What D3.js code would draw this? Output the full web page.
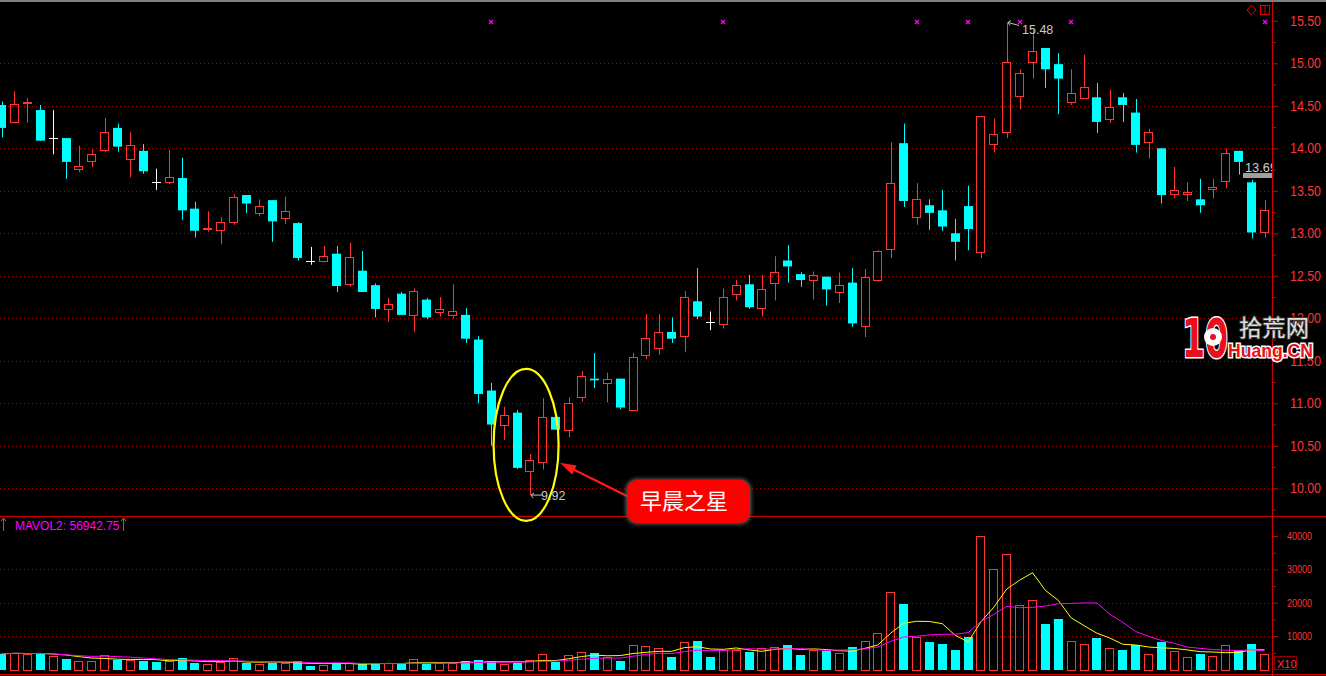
<!DOCTYPE html>
<html>
<head>
<meta charset="utf-8">
<script src="https://cdn.jsdelivr.net/npm/d3@7"></script>
<style>
body { margin: 0; background: #000; }
svg { display: block; }
</style>
</head>
<body>
<svg id="chart"></svg>
<script>
// daily OHLC, left to right
var opens = [14.51,14.31,14.53,14.45,14.12,14.12,13.76,13.85,13.98,14.24,13.87,13.97,13.60,13.60,13.65,13.29,13.05,13.04,13.13,13.45,
  13.24,13.39,13.18,13.12,12.67,12.67,12.76,12.40,12.56,12.39,12.11,12.29,12.04,12.22,12.08,12.04,12.04,11.75,11.15,10.75,
  10.89,10.20,10.31,10.84,10.69,11.08,11.29,11.24,11.29,10.92,11.57,11.65,11.84,11.79,12.20,11.96,11.93,12.29,12.40,12.12,
  12.41,12.68,12.52,12.45,12.49,12.31,12.42,11.91,12.45,12.81,14.06,13.19,13.33,13.27,13.00,13.32,12.78,14.05,14.19,14.62,
  15.02,15.18,14.99,14.54,14.59,14.60,14.34,14.60,14.42,14.07,14.00,13.46,13.46,13.40,13.52,13.62,13.97,13.60,13.01];
var highs = [14.55,14.67,14.59,14.51,14.45,14.12,14.03,13.99,14.36,14.29,14.19,14.05,13.76,13.98,13.89,13.37,13.26,13.19,13.46,13.45,
  13.40,13.39,13.43,13.13,12.84,12.85,12.85,12.89,12.79,12.41,12.24,12.31,12.35,12.24,12.25,12.40,12.12,11.79,11.24,10.96,
  10.92,10.40,11.06,10.84,11.07,11.38,11.59,11.36,11.29,11.59,12.05,12.05,12.01,12.32,12.59,12.08,12.35,12.45,12.51,12.51,
  12.73,12.86,12.54,12.55,12.49,12.54,12.59,12.58,12.80,14.07,14.29,13.59,13.40,13.51,13.17,13.56,14.38,14.35,15.48,14.93,
  15.39,15.18,15.12,14.93,15.10,14.77,14.69,14.65,14.58,14.23,14.00,13.78,13.60,13.64,13.64,14.00,13.97,13.63,13.39];
var lows = [14.13,14.30,14.30,14.09,13.93,13.64,13.72,13.78,13.95,13.96,13.66,13.70,13.51,13.58,13.16,12.95,13.02,12.87,13.10,13.24,
  13.20,12.90,13.11,12.68,12.63,12.66,12.31,12.37,12.31,12.01,11.96,12.04,11.84,11.99,12.02,12.00,11.71,11.00,10.50,10.57,
  10.23,9.92,10.22,10.69,10.60,11.02,11.18,11.01,10.93,10.92,11.52,11.57,11.71,11.60,11.99,11.86,11.88,12.21,12.11,12.02,
  12.21,12.42,12.37,12.22,12.15,12.18,11.90,11.78,12.43,12.71,13.31,13.10,13.04,13.03,12.68,12.80,12.71,13.95,14.12,14.46,
  14.82,14.71,14.40,14.51,14.59,14.18,14.30,14.31,13.95,13.88,13.35,13.41,13.38,13.24,13.41,13.53,13.69,12.94,12.95];
var closes = [14.24,14.52,14.55,14.09,14.12,13.84,13.79,13.93,14.19,14.02,14.04,13.73,13.60,13.66,13.27,13.03,13.06,13.13,13.43,13.35,
  13.32,13.14,13.26,12.71,12.67,12.73,12.38,12.72,12.31,12.11,12.17,12.04,12.32,12.01,12.11,12.09,11.76,11.11,10.75,10.86,
  10.24,10.33,10.84,10.69,11.00,11.32,11.27,11.29,10.95,11.55,11.77,11.84,11.76,12.25,12.02,11.96,12.25,12.39,12.13,12.35,
  12.54,12.61,12.45,12.51,12.34,12.39,11.94,12.48,12.79,13.59,13.38,13.40,13.24,13.08,12.90,13.05,14.38,14.17,15.02,14.88,
  15.15,14.93,14.82,14.65,14.72,14.31,14.48,14.51,14.04,14.19,13.45,13.51,13.48,13.33,13.54,13.95,13.84,13.01,13.27];
var volumes = [4660,5050,4660,4870,4050,3150,2550,2550,4260,2850,2850,2550,2250,2550,3450,1950,1650,2250,3450,1950,
  1650,1950,1950,2550,1050,1350,1950,1950,1650,1650,1950,1650,3150,1650,1800,1950,2550,2850,2550,1650,
  1950,2850,4660,2250,4350,5260,4960,3750,2550,7360,7060,6460,3750,8260,8560,3750,5860,5860,5260,6460,
  6760,7360,4350,5860,5560,4960,6760,8560,10960,23270,19670,9760,8260,7660,5860,9760,40090,30090,34690,19280,
  20780,13660,15170,8470,7570,9460,6460,5860,7360,4560,8260,5470,3750,4660,4050,7270,5860,7660,4660];

var priceTicks = [10, 10.5, 11, 11.5, 12, 12.5, 13, 13.5, 14, 14.5, 15, 15.5];
var priceMinor = [9.75, 10.25, 10.75, 11.25, 11.75, 12.25, 12.75, 13.25, 13.75, 14.25, 14.75, 15.25];
var priceGrid = [10, 10.5, 11, 11.5, 12, 12.5, 13, 13.5, 14, 14.5, 15];
var volTicks = [10000, 20000, 30000, 40000];
var volMinor = [5000, 15000, 25000, 35000];
var volGrid = [10000, 20000, 30000];
var markIdx = [38, 56, 71, 75, 79, 83, 98];   // magenta x marks along the top
var mavolText = "MAVOL2: 56942.75";
var highIdx = 78, lowIdx = 41, lastPrice = 13.69;
var noteText = "早晨之星";

var W = 1326, H = 676, axisX = 1272;
var RED = "#ff3434", CYAN = "#00ffff", GRID = "#a00000";

var svg = d3.select('#chart')
    .attr('width', W)
    .attr('height', H)
    .style('background', '#000');

var x = d3.scaleLinear().domain([0, opens.length - 1]).range([1.6, 1264.5]);
var y = d3.scaleLinear().domain([10, 15]).range([488.3, 63.3]);
var yv = d3.scaleLinear().domain([0, 40000]).range([669.5, 536]);

svg.append('defs').append('clipPath').attr('id', 'plot')
  .append('rect').attr('x', 0).attr('y', 0).attr('width', axisX).attr('height', H);

var crisp = function(v) { return Math.round(v) + 0.5; };

// grid
svg.append('g').selectAll('line')
    .data(priceGrid)
  .enter().append('line')
    .attr('x1', 0).attr('x2', axisX)
    .attr('y1', function(d) { return crisp(y(d)); })
    .attr('y2', function(d) { return crisp(y(d)); })
    .attr('stroke', GRID).attr('stroke-dasharray', '1,3');

svg.append('g').selectAll('line')
    .data(volGrid)
  .enter().append('line')
    .attr('x1', 0).attr('x2', axisX)
    .attr('y1', function(d) { return crisp(yv(d)); })
    .attr('y2', function(d) { return crisp(yv(d)); })
    .attr('stroke', GRID).attr('stroke-dasharray', '1,3');

// frame
svg.append('rect').attr('x', 0).attr('y', 0).attr('width', W).attr('height', 2).attr('fill', '#808080');
svg.append('line').attr('x1', 0).attr('x2', W).attr('y1', 516.5).attr('y2', 516.5).attr('stroke', '#d00000');
svg.append('line').attr('x1', 0).attr('x2', W).attr('y1', 674.5).attr('y2', 674.5).attr('stroke', '#d00000');
svg.append('line').attr('x1', axisX + 0.5).attr('x2', axisX + 0.5).attr('y1', 2).attr('y2', H).attr('stroke', '#d00000');

// candles
var data = opens.map(function(o, i) {
  return { i: i, o: o, h: highs[i], l: lows[i], c: closes[i], v: volumes[i] };
});

var plot = svg.append('g').attr('clip-path', 'url(#plot)');

var candle = plot.selectAll('.candle')
    .data(data)
  .enter().append('g')
    .attr('class', 'candle');

candle.each(function(d) {
  var g = d3.select(this);
  var cx = crisp(x(d.i));
  var left = Math.round(x(d.i) - 4.5);
  var yTop = y(Math.max(d.o, d.c)), yBot = y(Math.min(d.o, d.c));
  if (d.o === d.c) {
    g.append('line').attr('x1', cx).attr('x2', cx).attr('y1', y(d.h)).attr('y2', y(d.l)).attr('stroke', '#fff');
    g.append('line').attr('x1', left).attr('x2', left + 9).attr('y1', crisp(y(d.o))).attr('y2', crisp(y(d.o))).attr('stroke', '#fff');
  } else if (d.c > d.o) {
    var t = Math.round(yTop), b = Math.round(yBot);
    g.append('line').attr('x1', cx).attr('x2', cx).attr('y1', y(d.h)).attr('y2', t).attr('stroke', RED);
    g.append('line').attr('x1', cx).attr('x2', cx).attr('y1', b + 1).attr('y2', y(d.l)).attr('stroke', RED);
    g.append('rect').attr('x', left + 0.5).attr('y', t + 0.5)
      .attr('width', 8).attr('height', Math.max(1, b - t))
      .attr('fill', 'none').attr('stroke', RED);
  } else {
    g.append('line').attr('x1', cx).attr('x2', cx).attr('y1', y(d.h)).attr('y2', y(d.l)).attr('stroke', CYAN);
    g.append('rect').attr('x', left).attr('y', yTop)
      .attr('width', 9).attr('height', Math.max(1.5, yBot - yTop))
      .attr('fill', CYAN);
  }
});

// volume bars: up day hollow red, down day solid cyan (doji compared to previous close)
var isUp = function(d) {
  if (d.c !== d.o) return d.c > d.o;
  return d.i === 0 || d.c >= closes[d.i - 1];
};

plot.selectAll('.vol')
    .data(data)
  .enter().append('rect')
    .attr('class', 'vol')
    .attr('x', function(d) { return Math.round(x(d.i) - 4.5) + (isUp(d) ? 0.5 : 0); })
    .attr('y', function(d) { return Math.round(yv(d.v)) + (isUp(d) ? 0.5 : 0); })
    .attr('width', function(d) { return isUp(d) ? 8 : 9; })
    .attr('height', function(d) { return Math.round(yv(0)) - Math.round(yv(d.v)); })
    .attr('fill', function(d) { return isUp(d) ? 'none' : CYAN; })
    .attr('stroke', function(d) { return isUp(d) ? RED : 'none'; });

// MAVOL lines (5 and 10 day averages of the volumes above)
function movingAvg(n) {
  return volumes.map(function(v, i) {
    return d3.mean(volumes.slice(Math.max(0, i - n + 1), i + 1));
  });
}
var line = d3.line()
    .x(function(d, i) { return x(i); })
    .y(function(d) { return yv(d); });

plot.append('path').datum(movingAvg(5)).attr('d', line)
    .attr('fill', 'none').attr('stroke', '#ffff00');
plot.append('path').datum(movingAvg(10)).attr('d', line)
    .attr('fill', 'none').attr('stroke', '#ff00ff');

// magenta markers on top
var marks = plot.append('g').selectAll('g')
    .data(markIdx)
  .enter().append('g')
    .attr('transform', function(d) { return 'translate(' + Math.round(x(d)) + ',22)'; });
marks.append('path')
    .attr('d', 'M-2,-2L2,2M2,-2L-2,2')
    .attr('stroke', '#ff00ff').attr('stroke-width', 1.3);

// current price marker
plot.append('rect')
    .attr('x', 1243).attr('y', Math.round(y(lastPrice)) - 2)
    .attr('width', axisX - 1243).attr('height', 5)
    .attr('fill', '#a0a0a0');
plot.append('text')
    .attr('x', 1245).attr('y', Math.round(y(lastPrice)) - 3)
    .attr('font-family', 'Liberation Sans, Arial, sans-serif')
    .attr('font-size', 13).attr('fill', '#d0d0d0')
    .attr('textLength', 32).attr('lengthAdjust', 'spacingAndGlyphs')
    .text(lastPrice.toFixed(2));

// high / low labels
function extremeLabel(i, price, dx, dyArrow, dyText) {
  var px = Math.round(x(i)) + 1, py = y(price);
  var g = plot.append('g').attr('stroke', '#c0c0c0');
  g.append('path')
    .attr('d', 'M' + (px + 11) + ',' + (py + dyArrow) + 'L' + px + ',' + py +
               'M' + px + ',' + py + 'l3,-2M' + px + ',' + py + 'l2,3')
    .attr('fill', 'none');
  plot.append('text')
    .attr('x', px + dx).attr('y', py + dyText)
    .attr('font-family', 'Liberation Sans, Arial, sans-serif')
    .attr('font-size', 12.5).attr('fill', '#c8c8c8')
    .text(price.toFixed(2));
}
extremeLabel(highIdx, highs[highIdx], 14, 3, 11);
extremeLabel(lowIdx, lows[lowIdx], 10, 0, 5);

// price axis
var pAxis = svg.append('g')
    .attr('transform', 'translate(' + axisX + ',0)')
    .call(d3.axisRight(y).tickValues(priceTicks).tickSize(6).tickPadding(12)
      .tickFormat(d3.format('.2f')));
pAxis.append('g')
    .call(d3.axisRight(y).tickValues(priceMinor).tickSize(4).tickFormat(''));
pAxis.selectAll('.domain').remove();
pAxis.selectAll('line').attr('stroke', '#d00000');
pAxis.selectAll('text')
    .attr('fill', RED)
    .attr('font-family', 'Liberation Sans, Arial, sans-serif')
    .attr('font-size', 14)
    .attr('textLength', 31)
    .attr('lengthAdjust', 'spacingAndGlyphs');

// volume axis
var vAxis = svg.append('g')
    .attr('transform', 'translate(' + axisX + ',0)')
    .call(d3.axisRight(yv).tickValues(volTicks).tickSize(6).tickPadding(9)
      .tickFormat(d3.format('d')));
vAxis.append('g')
    .call(d3.axisRight(yv).tickValues(volMinor).tickSize(4).tickFormat(''));
vAxis.selectAll('.domain').remove();
vAxis.selectAll('line').attr('stroke', '#d00000');
vAxis.selectAll('text')
    .attr('fill', RED)
    .attr('font-family', 'Liberation Sans, Arial, sans-serif')
    .attr('font-size', 11)
    .attr('textLength', 25)
    .attr('lengthAdjust', 'spacingAndGlyphs');

// X10 box
svg.append('rect').attr('x', 1274.5).attr('y', 656.5).attr('width', 22).attr('height', 13)
    .attr('fill', 'none').attr('stroke', '#900000');
svg.append('text').attr('x', 1277).attr('y', 667.5)
    .attr('font-family', 'Liberation Sans, Arial, sans-serif').attr('font-size', 11)
    .attr('fill', RED).text('X10');

// MAVOL caption
function upArrow(ax) {
  svg.append('path')
    .attr('d', 'M' + ax + ',531V518M' + (ax - 2.5) + ',521L' + ax + ',518L' + (ax + 2.5) + ',521')
    .attr('stroke', RED).attr('fill', 'none');
}
upArrow(3.5);
upArrow(123.5);
svg.append('text').attr('x', 15).attr('y', 530)
    .attr('font-family', 'Liberation Sans, Arial, sans-serif').attr('font-size', 12)
    .attr('fill', '#ff00ff').text(mavolText);

// top right icons
svg.append('path').attr('d', 'M1251.5,5L1256,10L1251.5,15L1247,10Z')
    .attr('fill', 'none').attr('stroke', '#e00000');
svg.append('rect').attr('x', 1260.5).attr('y', 5.5).attr('width', 9).attr('height', 9)
    .attr('fill', 'none').attr('stroke', '#e00000');
svg.append('line').attr('x1', 1265).attr('x2', 1265).attr('y1', 5).attr('y2', 15).attr('stroke', '#e00000');

// morning star annotation
var note = svg.append('g');
note.append('ellipse')
    .attr('cx', x(40.7)).attr('cy', y(10.51))
    .attr('rx', 32.5).attr('ry', 76)
    .attr('fill', 'none').attr('stroke', '#ffff00').attr('stroke-width', 2.2);

var tipX = x(43.33), tipY = y(10.3);
var tailX = 631, tailY = 498;
var ang = Math.atan2(tipY - tailY, tipX - tailX);
note.append('line')
    .attr('x1', tailX).attr('y1', tailY)
    .attr('x2', tipX - 10 * Math.cos(ang)).attr('y2', tipY - 10 * Math.sin(ang))
    .attr('stroke', '#ff1a1a').attr('stroke-width', 2);
note.append('path')
    .attr('d', d3.line()([
      [tipX, tipY],
      [tipX - 16 * Math.cos(ang) + 5 * Math.sin(ang), tipY - 16 * Math.sin(ang) - 5 * Math.cos(ang)],
      [tipX - 16 * Math.cos(ang) - 5 * Math.sin(ang), tipY - 16 * Math.sin(ang) + 5 * Math.cos(ang)]
    ]) + 'Z')
    .attr('fill', '#ff1a1a');

var glow = svg.select('defs').append('filter').attr('id', 'glow')
    .attr('x', '-20%').attr('y', '-30%').attr('width', '140%').attr('height', '160%');
glow.append('feGaussianBlur').attr('stdDeviation', 2);

note.append('rect')
    .attr('x', 626).attr('y', 479).attr('width', 125).attr('height', 45).attr('rx', 11)
    .attr('fill', '#666').attr('filter', 'url(#glow)');
note.append('rect')
    .attr('x', 627).attr('y', 480).attr('width', 123).attr('height', 43).attr('rx', 10)
    .attr('fill', '#ff0000');
note.append('text')
    .attr('x', 640).attr('y', 509)
    .attr('font-family', 'Noto Sans CJK SC, sans-serif').attr('font-size', 22)
    .attr('fill', '#fff')
    .attr('textLength', 88).attr('lengthAdjust', 'spacingAndGlyphs')
    .text(noteText);

// site logo
var logo = svg.append('g');
logo.append('text')
    .attr('x', 1182).attr('y', 357)
    .attr('font-family', 'DejaVu Sans, sans-serif').attr('font-weight', 'bold').attr('font-size', 54)
    .attr('textLength', 46).attr('lengthAdjust', 'spacingAndGlyphs')
    .attr('fill', '#e8101c').attr('stroke', '#fff').attr('stroke-width', 3).attr('paint-order', 'stroke')
    .text('10');
logo.append('circle').attr('cx', 1213).attr('cy', 337).attr('r', 9).attr('fill', '#fff');
logo.append('circle').attr('cx', 1213).attr('cy', 337).attr('r', 3).attr('fill', '#e8101c');
logo.append('text')
    .attr('x', 1239).attr('y', 336)
    .attr('font-family', 'Noto Sans CJK SC, sans-serif').attr('font-size', 23)
    .attr('textLength', 70).attr('lengthAdjust', 'spacingAndGlyphs')
    .attr('fill', '#e0e0e0').attr('stroke', '#333').attr('stroke-width', 2).attr('paint-order', 'stroke')
    .text('拾荒网');
logo.append('text')
    .attr('x', 1228).attr('y', 357)
    .attr('font-family', 'Liberation Sans, Arial, sans-serif').attr('font-weight', 'bold').attr('font-size', 19)
    .attr('textLength', 85).attr('lengthAdjust', 'spacingAndGlyphs')
    .attr('fill', '#e8101c').attr('stroke', '#fff').attr('stroke-width', 3).attr('paint-order', 'stroke')
    .text('Huang.CN');
</script>
</body>
</html>
